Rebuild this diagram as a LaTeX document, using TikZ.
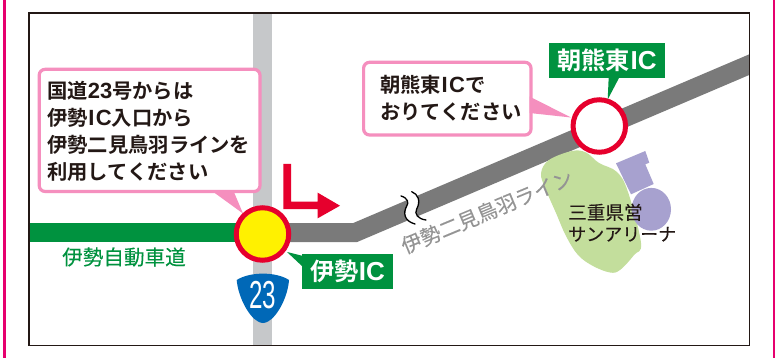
\documentclass[tikz,border=0pt]{standalone}
\usepackage{fontspec}
\setmainfont{Noto Sans CJK JP}[BoldFont={Noto Sans CJK JP Bold}]
\newfontfamily\jpreg[FakeBold=0.15]{Noto Sans CJK JP}
\newfontfamily\jpbold{Noto Sans CJK JP Bold}
\newfontfamily\shieldfont{Liberation Sans}
\newfontfamily\latbold{Liberation Sans Bold}
\newcommand{\calllat}[1]{{\latbold\fontsize{22}{27}\selectfont #1}}
\newcommand{\callic}{{\latbold\fontsize{22}{27}\selectfont\kern0.5pt I\kern1.5pt C}}
\newcommand{\iclat}{{\latbold\fontsize{26}{26}\selectfont\kern0.5pt IC}}
\definecolor{pinkline}{HTML}{F58FBE}
\definecolor{pageedge}{HTML}{E6006E}
\definecolor{roadgreen}{HTML}{00923F}
\definecolor{roadgray}{HTML}{7A7A7A}
\definecolor{routegray}{HTML}{C6C8CA}
\definecolor{icred}{HTML}{E6002D}
\definecolor{icyellow}{HTML}{FFF100}
\definecolor{shieldblue}{HTML}{0068B7}
\definecolor{parkgreen}{HTML}{C3DE9C}
\definecolor{arenapurple}{HTML}{A7A1CF}
\definecolor{framedark}{HTML}{231815}
\tikzset{
  callout/.style={draw=pinkline,line width=3.2pt,fill=white,rounded corners=6pt},
  tailfill/.style={fill=pinkline,draw=none},
  calltext/.style={font=\jpbold\fontsize{20.3}{27}\selectfont,text=framedark,align=left,anchor=north west,inner sep=0pt},
  iclabel/.style={fill=roadgreen,text=white,font=\jpbold\fontsize{24.2}{26}\selectfont,inner sep=0pt,anchor=center},
  iccircle/.style={draw=icred,line width=5pt},
  road/.style={line width=19pt,line join=miter},
  squiggle/.style={draw=black,line width=1.3pt,line cap=round}
}
\begin{document}
\begin{tikzpicture}[x=1pt,y=-1pt]
\useasboundingbox (0,0) rectangle (776,358);
\fill[white] (0,0) rectangle (776,358);
% page edges
\fill[pageedge] (3.3,0) rectangle (6,358);
\fill[pageedge] (772.6,0) rectangle (775.4,358);
% roads
\fill[routegray] (253,13) rectangle (271.8,345.5);
\fill[roadgreen] (29.5,223.2) rectangle (245,242);
\coordinate (bendA) at (262,232.6);
\coordinate (bendB) at (355,232.6);
\begin{scope}
\clip (29,13) rectangle (749.5,345.5);
\draw[road,draw=roadgray] (bendA) -- (bendB) -- (770,55.8);
\end{scope}
% squiggle over the road
\fill[white] (401,196) .. controls (408,198) and (409,203) .. (406.7,206)
  .. controls (403,213) and (404,221) .. (415,224)
  -- (426,220) .. controls (418,219) and (414,214) .. (416.7,209)
  .. controls (421,201) and (418,194) .. (411.7,191.7) -- cycle;
\draw[squiggle] (401,196) .. controls (408,198) and (409,203) .. (406.7,206)
  .. controls (403,213) and (404,221) .. (415,224);
\draw[squiggle] (411.7,191.7) .. controls (418,194) and (421,201) .. (416.7,209)
  .. controls (414,214) and (418,219) .. (426,220);
% park and arena
\fill[parkgreen] plot[smooth cycle,tension=0.6] coordinates {(541,173.5) (549,160) (572,151) (586,152.5) (599,163) (617,172) (628,192) (641,243) (634,255) (620,270) (610,272.5) (593,266) (578,255) (566,236) (556,213) (546,190)};
\fill[arenapurple] (616,163.3) -- (645.3,151) -- (649.3,162.7) -- (645.3,164.3) -- (653.7,184) -- (631,194.3) -- cycle;
\fill[arenapurple] (651.3,209.3) ellipse (19.7 and 21.4);
% callouts
\draw[callout] (39.2,69.3) rectangle (260,191.5);
\fill[tailfill] (212,191) -- (243,213.5) -- (233.5,191) -- cycle;
\draw[callout] (363.6,62.3) rectangle (531,135);
\fill[tailfill] (529.5,96.5) -- (571,117.5) -- (529.5,113) -- cycle;
% interchange circles
\node[circle,iccircle,fill=icyellow,minimum size=52.5pt,inner sep=0pt] (ise) at (262.5,234) {};
\node[circle,iccircle,fill=white,minimum size=52.5pt,inner sep=0pt] (asakuma) at (599.3,126) {};
% IC labels
\node[iclabel,minimum width=91pt,minimum height=34.7pt] (iselabel) at (347.5,271.4) {伊勢\iclat};
\node[iclabel,minimum width=116pt,minimum height=34.7pt] (asalabel) at (607,60.4) {朝熊東\iclat};
\fill[roadgreen] (287,252) -- (303,267) -- (303,256) -- cycle;
\fill[roadgreen] (607.7,99.5) -- (619.5,77) -- (608.7,77) -- cycle;
% red arrow
\fill[icred] (283.3,164) -- (291,164) -- (291,201.7) -- (317.7,201.7) -- (317.7,192.7) -- (340,205.7) -- (317.7,218.3) -- (317.7,209.2) -- (283.3,209.2) -- cycle;
% shield
\fill[shieldblue] (236.7,280) .. controls (250,271.5) and (276,271.5) .. (289,280)
  .. controls (288,296) and (278,316) .. (268,321.5)
  .. controls (264.5,323.5) and (261.5,323.5) .. (258,321.5)
  .. controls (248,316) and (238,296) .. (236.7,280) -- cycle;
\node[text=white,font=\shieldfont\fontsize{39}{39}\selectfont,xscale=0.62,inner sep=0pt] (r23) at (262.8,295) {23};
% frame
\draw[framedark,line width=1.4pt] (29,13) rectangle (749.5,345.5);
% texts
\node[calltext] (t1) at (47,81) {国道\calllat{23}号からは\\伊勢\callic 入口から\\伊勢二見鳥羽ラインを\\利用してください};
\node[calltext] (t2) at (380,75) {朝熊東\callic で\\おりてください};
\node[text=roadgreen,font=\jpreg\fontsize{20.6}{24}\selectfont,inner sep=0pt] (mw) at (124,257) {伊勢自動車道};
\node[text=black!42,font=\jpreg\fontsize{20.4}{24}\selectfont,rotate=22.6,inner sep=0pt] (line) at (487,211.7) {伊勢二見鳥羽ライン};
\node[text=framedark,font=\jpreg\fontsize{18}{21.5}\selectfont,align=left,anchor=north west,inner sep=0pt] (arena) at (568,203.5) {{\fontsize{18.6}{21.5}\selectfont 三重県営}\\サンアリーナ};
\end{tikzpicture}
\end{document}
